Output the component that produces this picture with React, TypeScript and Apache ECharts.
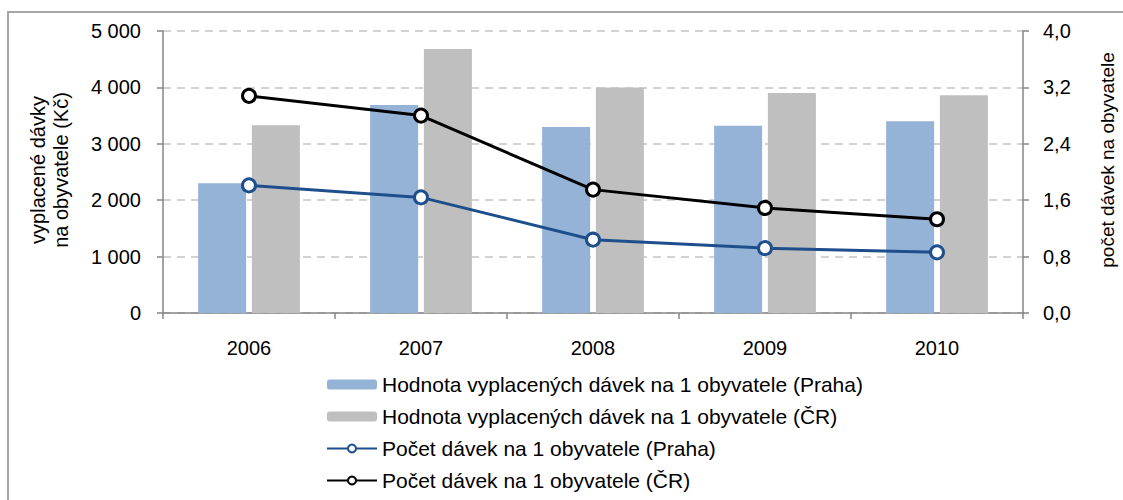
import React, { useEffect, useRef } from "react";
import * as echarts from "echarts";

const years = ["2006", "2007", "2008", "2009", "2010"];
const valuePraha = [2300, 3690, 3300, 3320, 3400];
const valueCR = [3330, 4680, 4000, 3900, 3860];
const countPraha = [1.81, 1.64, 1.04, 0.92, 0.86];
const countCR = [3.08, 2.8, 1.75, 1.49, 1.33];

const names = [
  "Hodnota vyplacených dávek na 1 obyvatele (Praha)",
  "Hodnota vyplacených dávek na 1 obyvatele (ČR)",
  "Počet dávek na 1 obyvatele (Praha)",
  "Počet dávek na 1 obyvatele (ČR)",
];

const FONT = "Liberation Sans, Arial, sans-serif";

export default function App() {
  const ref = useRef<HTMLDivElement>(null);
  useEffect(() => {
    if (!ref.current) return;
    const chart = echarts.init(ref.current, undefined, { renderer: "svg" });
    const axisLine = { show: true, lineStyle: { color: "#868686", width: 1.5 } };
    chart.setOption({
      animation: false,
      backgroundColor: "#fff",
      textStyle: { fontFamily: FONT },
      grid: { left: 163, right: 100, top: 31, bottom: 187 },
      legend: {
        orient: "vertical",
        left: 321,
        top: 369,
        itemWidth: 50,
        itemHeight: 10,
        itemGap: 11,
        textStyle: { fontSize: 21, color: "#000", fontFamily: FONT, lineHeight: 21 },
        data: names,
      },
      xAxis: {
        type: "category",
        data: years,
        axisLine,
        axisTick: { show: true, length: 6, lineStyle: { color: "#868686", width: 1.5 } },
        axisLabel: { fontSize: 20, color: "#000", margin: 25, fontFamily: FONT },
      },
      yAxis: [
        {
          type: "value",
          min: 0,
          max: 5000,
          interval: 1000,
          axisLine,
          axisTick: { show: true, length: 6, lineStyle: { color: "#868686", width: 1.5 } },
          axisLabel: {
            fontSize: 20,
            color: "#000",
            margin: 22,
            fontFamily: FONT,
            formatter: (v: number) => (v >= 1000 ? `${Math.floor(v / 1000)} ${String(v % 1000).padStart(3, "0")}` : String(v)),
          },
          splitLine: { show: true, lineStyle: { color: "#c4c4c4", type: [8, 6], width: 1.5 } },
        },
        {
          type: "value",
          min: 0,
          max: 4,
          interval: 0.8,
          position: "right",
          axisLine,
          axisTick: { show: true, length: 6, lineStyle: { color: "#868686", width: 1.5 } },
          axisLabel: {
            fontSize: 20,
            color: "#000",
            margin: 20,
            fontFamily: FONT,
            formatter: (v: number) => v.toFixed(1).replace(".", ","),
          },
          splitLine: { show: false },
        },
      ],
      series: [
        {
          name: names[0],
          type: "bar",
          data: valuePraha,
          barWidth: 48,
          barGap: "12%",
          itemStyle: { color: "#95b3d7" },
        },
        {
          name: names[1],
          type: "bar",
          data: valueCR,
          barWidth: 48,
          itemStyle: { color: "#bfbfbf" },
        },
        {
          name: names[2],
          type: "line",
          yAxisIndex: 1,
          data: countPraha,
          symbol: "circle",
          symbolSize: 13,
          lineStyle: { color: "#1f4e8c", width: 3 },
          itemStyle: { color: "#fff", borderColor: "#1f4e8c", borderWidth: 3 },
          z: 5,
        },
        {
          name: names[3],
          type: "line",
          yAxisIndex: 1,
          data: countCR,
          symbol: "circle",
          symbolSize: 13,
          lineStyle: { color: "#000", width: 3 },
          itemStyle: { color: "#fff", borderColor: "#000", borderWidth: 3 },
          z: 5,
        },
      ],
      graphic: [
        {
          type: "rect",
          shape: { x: 8, y: 12, width: 1300, height: 700 },
          style: { fill: "none", stroke: "#a6a6a6", lineWidth: 2 },
          silent: true,
          z: -1,
        },
        {
          type: "text",
          x: 38,
          y: 170,
          rotation: Math.PI / 2,
          style: {
            text: "vyplacené dávky",
            fontSize: 20,
            fontFamily: FONT,
            fill: "#000",
            align: "center",
            verticalAlign: "middle",
          },
        },
        {
          type: "text",
          x: 61,
          y: 170,
          rotation: Math.PI / 2,
          style: {
            text: "na obyvatele (Kč)",
            fontSize: 20,
            fontFamily: FONT,
            fill: "#000",
            align: "center",
            verticalAlign: "middle",
          },
        },
        {
          type: "text",
          x: 1107,
          y: 160,
          rotation: Math.PI / 2,
          style: {
            text: "počet dávek na obyvatele",
            fontSize: 19,
            fontFamily: FONT,
            fill: "#000",
            align: "center",
            verticalAlign: "middle",
          },
        },
      ],
    });
    return () => chart.dispose();
  }, []);
  return (
    <div
      ref={ref}
      style={{ position: "fixed", left: 0, top: 0, width: 1123, height: 500, background: "#fff" }}
    />
  );
}
